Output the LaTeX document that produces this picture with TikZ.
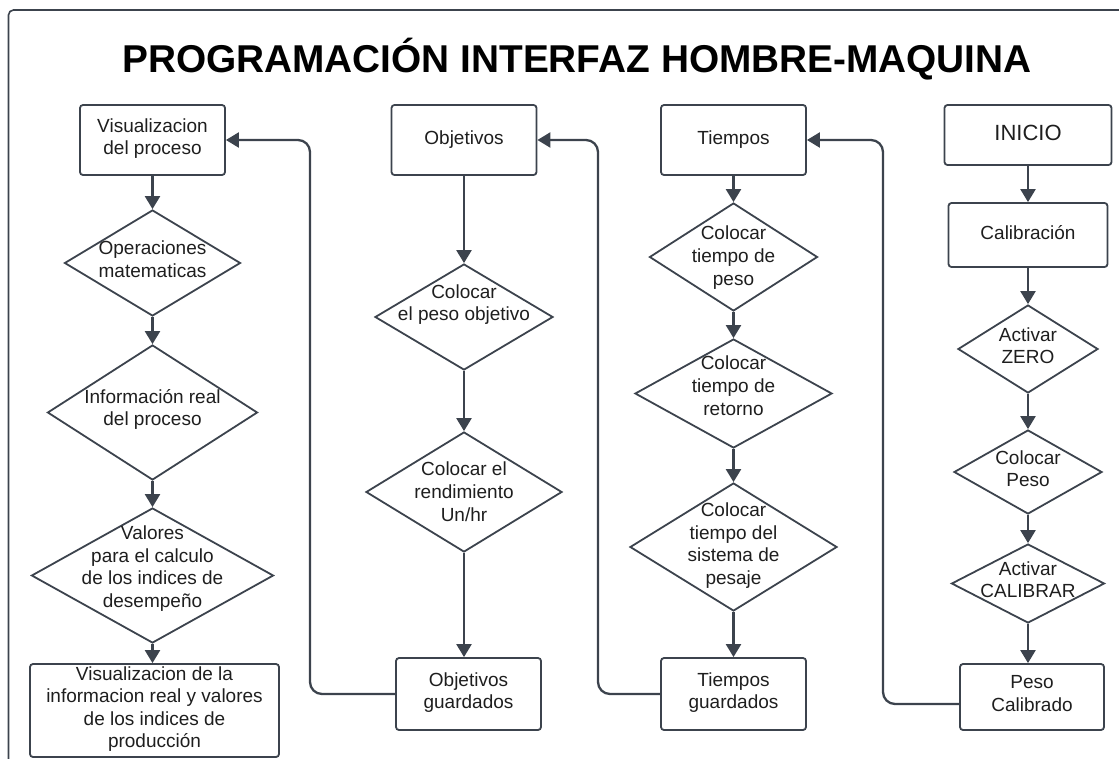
\documentclass[tikz,border=0pt]{standalone}
\usepackage{fontspec}
\setmainfont{Liberation Sans}
\usetikzlibrary{shapes.geometric,arrows.meta}
\definecolor{ln}{HTML}{3C434D}
\definecolor{tx}{HTML}{1E1E1E}
\newcommand\hmbody{\fontsize{19}{22.6}\selectfont}
\begin{document}
\begin{tikzpicture}[x=1pt,y=-1pt,
  box/.style={draw=ln, line width=1.8pt, rounded corners=3pt, rectangle, inner sep=0pt,
    align=center, font=\hmbody, text=tx,
    execute at begin node=\strut, execute at end node=\strut},
  dia/.style={draw=ln, line width=1.8pt, diamond, inner sep=0pt},
  dtxt/.style={inner sep=0pt, align=center, font=\hmbody, text=tx,
    execute at begin node=\strut, execute at end node=\strut},
  arr/.style={draw=ln, line width=2.3pt, -{Triangle[width=15pt,length=13pt]}},
  fb/.style={arr, rounded corners=12pt},
]
\path[use as bounding box] (0,0) rectangle (1119,758);
\begin{scope}
  \clip (0,0) rectangle (1119,758);
  \draw[draw=ln, line width=1.6pt, rounded corners=5pt] (8.5,10) rectangle (1145,790);
\end{scope}

\node[font=\fontsize{38.8}{46}\selectfont\bfseries, anchor=base, text=black, inner sep=0pt]
  (title) at (577,72) {PROGRAMACIÓN INTERFAZ HOMBRE-MAQUINA};

% column 1
\node[box, minimum width=145pt, minimum height=70pt] (v1) at (152.5,140) {Visualizacion\\del proceso};
\node[dia, minimum width=176pt, minimum height=106pt] (d11) at (152.5,263) {};
\node[dtxt] (t11) at (152.5,262.5) {Operaciones\\matematicas};
\node[dia, minimum width=210pt, minimum height=135pt] (d12) at (152.5,412.5) {};
\node[dtxt] (t12) at (152.5,411) {Información real\\del proceso};
\node[dia, minimum width=242pt, minimum height=135pt] (d13) at (152.5,575.5) {};
\node[dtxt] (t13) at (152.5,570) {Valores\\para el calculo\\de los indices de\\desempeño};
\node[box, minimum width=249pt, minimum height=93pt] (v2) at (154.5,710.5) {Visualizacion de la\\informacion real y valores\\de los indices de\\producción};

% column 2
\node[box, minimum width=145pt, minimum height=70pt] (ob) at (464,140) {Objetivos};
\node[dia, minimum width=178pt, minimum height=106pt] (d21) at (464,317) {};
\node[dtxt] (t21) at (464,306) {Colocar\\el peso objetivo};
\node[dia, minimum width=196pt, minimum height=120pt] (d22) at (464,492) {};
\node[dtxt] (t22) at (464,495) {Colocar el\\rendimiento\\Un/hr};
\node[box, minimum width=145pt, minimum height=72pt] (og) at (468.5,694) {Objetivos\\guardados};

% column 3
\node[box, minimum width=145pt, minimum height=70pt] (ti) at (733.5,140) {Tiempos};
\node[dia, minimum width=168pt, minimum height=108pt] (d31) at (733.5,257) {};
\node[dtxt] (t31) at (733.5,259) {Colocar\\tiempo de\\peso};
\node[dia, minimum width=197pt, minimum height=109pt] (d32) at (733.5,393.5) {};
\node[dtxt] (t32) at (733.5,389) {Colocar\\tiempo de\\retorno};
\node[dia, minimum width=207pt, minimum height=128pt] (d33) at (733.5,547) {};
\node[dtxt] (t33) at (733.5,547) {Colocar\\tiempo del\\sistema de\\pesaje};
\node[box, minimum width=145pt, minimum height=72pt] (tg) at (733.5,694) {Tiempos\\guardados};

% column 4
\node[box, minimum width=167pt, minimum height=60pt, font=\fontsize{22}{26}\selectfont] (ini) at (1028,135) {INICIO};
\node[box, minimum width=159pt, minimum height=64pt] (ca) at (1028,235) {Calibración};
\node[dia, minimum width=140pt, minimum height=88pt] (d41) at (1028,349) {};
\node[dtxt] (t41) at (1028,349) {Activar\\ZERO};
\node[dia, minimum width=148pt, minimum height=84pt] (d42) at (1028,472) {};
\node[dtxt] (t42) at (1028,472) {Colocar\\Peso};
\node[dia, minimum width=153pt, minimum height=79pt] (d43) at (1028,583.5) {};
\node[dtxt] (t43) at (1028,583) {Activar\\CALIBRAR};
\node[box, minimum width=144pt, minimum height=66pt] (pc) at (1032,697) {Peso\\Calibrado};

% vertical arrows
\draw[arr] (v1.south) -- (d11.north);
\draw[arr] (d11.south) -- (d12.north);
\draw[arr] (d12.south) -- (d13.north);
\draw[arr] (d13.south) -- (d13.south |- v2.north);
\draw[arr] (ob.south) -- (d21.north);
\draw[arr] (d21.south) -- (d22.north);
\draw[arr] (d22.south) -- (d22.south |- og.north);
\draw[arr] (ti.south) -- (d31.north);
\draw[arr] (d31.south) -- (d32.north);
\draw[arr] (d32.south) -- (d33.north);
\draw[arr] (d33.south) -- (tg.north);
\draw[arr] (ini.south) -- (ca.north);
\draw[arr] (ca.south) -- (d41.north);
\draw[arr] (d41.south) -- (d42.north);
\draw[arr] (d42.south) -- (d43.north);
\draw[arr] (d43.south) -- (d43.south |- pc.north);

% feedback connectors
\coordinate (k1) at (310,400);
\coordinate (k2) at (598,400);
\coordinate (k3) at (883,400);
\coordinate (p3) at ([yshift=-7pt]pc.west);
\draw[fb] (og.west) -- (og.west -| k1) -- (k1 |- v1.east) -- (v1.east);
\draw[fb] (tg.west) -- (tg.west -| k2) -- (k2 |- ob.east) -- (ob.east);
\draw[fb] (p3) -- (p3 -| k3) -- (k3 |- ti.east) -- (ti.east);
\end{tikzpicture}
\end{document}
